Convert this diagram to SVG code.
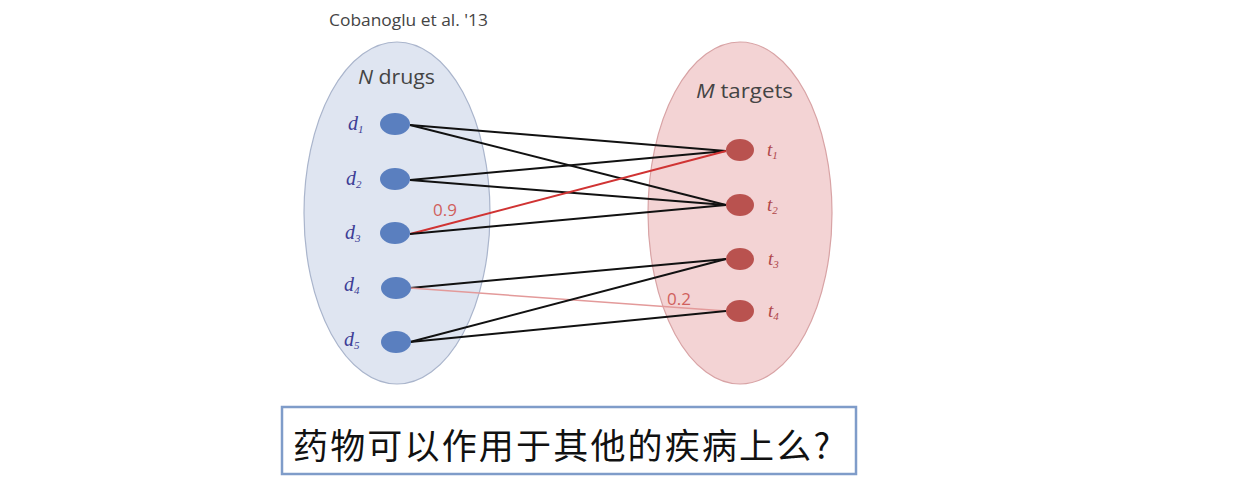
<svg xmlns="http://www.w3.org/2000/svg" width="1240" height="493" viewBox="0 0 1240 493">
<style>
.lbl{font-family:"Open Sans","Liberation Sans",sans-serif;}
.dl{font-family:"Liberation Serif",serif;font-style:italic;font-size:20px;fill:#3d3d96;}
.tl{font-family:"Liberation Serif",serif;font-style:italic;font-size:19px;fill:#b0484a;}
.dn{fill:#5a7fbf;}
.tn{fill:#b9524f;}
.e{stroke:#111;stroke-width:2;fill:none;}
.num{font-family:"Open Sans","Liberation Sans",sans-serif;font-size:17px;fill:#d0605c;}
</style>
<rect width="1240" height="493" fill="#ffffff"/>
<text class="lbl" x="329" y="26" font-size="15.5" fill="#444" textLength="159" lengthAdjust="spacingAndGlyphs">Cobanoglu et al. '13</text>
<g id="drugs-set">
<ellipse cx="397" cy="213" rx="93" ry="171" fill="#dfe5f1" stroke="#aab5cc" stroke-width="1.2"/>
<text class="lbl" x="358" y="84" font-size="20" fill="#444" textLength="77" lengthAdjust="spacingAndGlyphs"><tspan font-style="italic">N</tspan> drugs</text>
</g>
<g id="targets-set">
<ellipse cx="740" cy="213" rx="92" ry="171" fill="#f3d3d4" stroke="#d8a3a5" stroke-width="1.2"/>
<text class="lbl" x="696" y="98" font-size="20" fill="#444" textLength="97" lengthAdjust="spacingAndGlyphs"><tspan font-style="italic">M</tspan> targets</text>
</g>
<g id="connectors">
<line class="e" x1="410" y1="125" x2="726" y2="151"/>
<line class="e" x1="410" y1="125" x2="726" y2="205"/>
<line class="e" x1="410" y1="180" x2="726" y2="151"/>
<line class="e" x1="410" y1="180" x2="726" y2="205"/>
<line x1="410" y1="234" x2="726" y2="151" stroke="#d03333" stroke-width="2"/>
<line class="e" x1="410" y1="234" x2="726" y2="205"/>
<line class="e" x1="410" y1="288" x2="726" y2="259"/>
<line x1="410" y1="288" x2="726" y2="311" stroke="#e39a9a" stroke-width="1.5"/>
<line class="e" x1="410" y1="342" x2="726" y2="259"/>
<line class="e" x1="410" y1="342" x2="726" y2="311"/>
<text class="num" x="433" y="216">0.9</text>
<text class="num" x="667" y="305">0.2</text>
</g>
<g id="d1"><ellipse class="dn" cx="395" cy="124" rx="15" ry="11"/><text class="dl" x="348" y="130">d<tspan font-size="11" dy="3">1</tspan></text></g>
<g id="d2"><ellipse class="dn" cx="395" cy="179" rx="15" ry="11"/><text class="dl" x="346" y="185">d<tspan font-size="11" dy="3">2</tspan></text></g>
<g id="d3"><ellipse class="dn" cx="395" cy="233" rx="15" ry="11"/><text class="dl" x="345" y="239">d<tspan font-size="11" dy="3">3</tspan></text></g>
<g id="d4"><ellipse class="dn" cx="396" cy="288" rx="15" ry="11"/><text class="dl" x="344" y="291">d<tspan font-size="11" dy="3">4</tspan></text></g>
<g id="d5"><ellipse class="dn" cx="396" cy="342" rx="15" ry="11"/><text class="dl" x="344" y="346">d<tspan font-size="11" dy="3">5</tspan></text></g>
<g id="t1"><ellipse class="tn" cx="740" cy="150" rx="14" ry="11"/><text class="tl" x="767" y="156">t<tspan font-size="11" dy="3">1</tspan></text></g>
<g id="t2"><ellipse class="tn" cx="740" cy="205" rx="14" ry="11"/><text class="tl" x="767" y="211">t<tspan font-size="11" dy="3">2</tspan></text></g>
<g id="t3"><ellipse class="tn" cx="740" cy="259" rx="14" ry="11"/><text class="tl" x="768" y="265">t<tspan font-size="11" dy="3">3</tspan></text></g>
<g id="t4"><ellipse class="tn" cx="740" cy="311" rx="14" ry="11"/><text class="tl" x="768" y="317">t<tspan font-size="11" dy="3">4</tspan></text></g>
<g id="question">
<rect x="282" y="407" width="574" height="67" fill="#ffffff" stroke="#7f9cc9" stroke-width="2.5"/>
<text x="293" y="459" font-family="'Noto Sans CJK SC','Noto Sans',sans-serif" font-size="35" fill="#111" textLength="537" lengthAdjust="spacing">药物可以作用于其他的疾病上么?</text>
</g>
</svg>
